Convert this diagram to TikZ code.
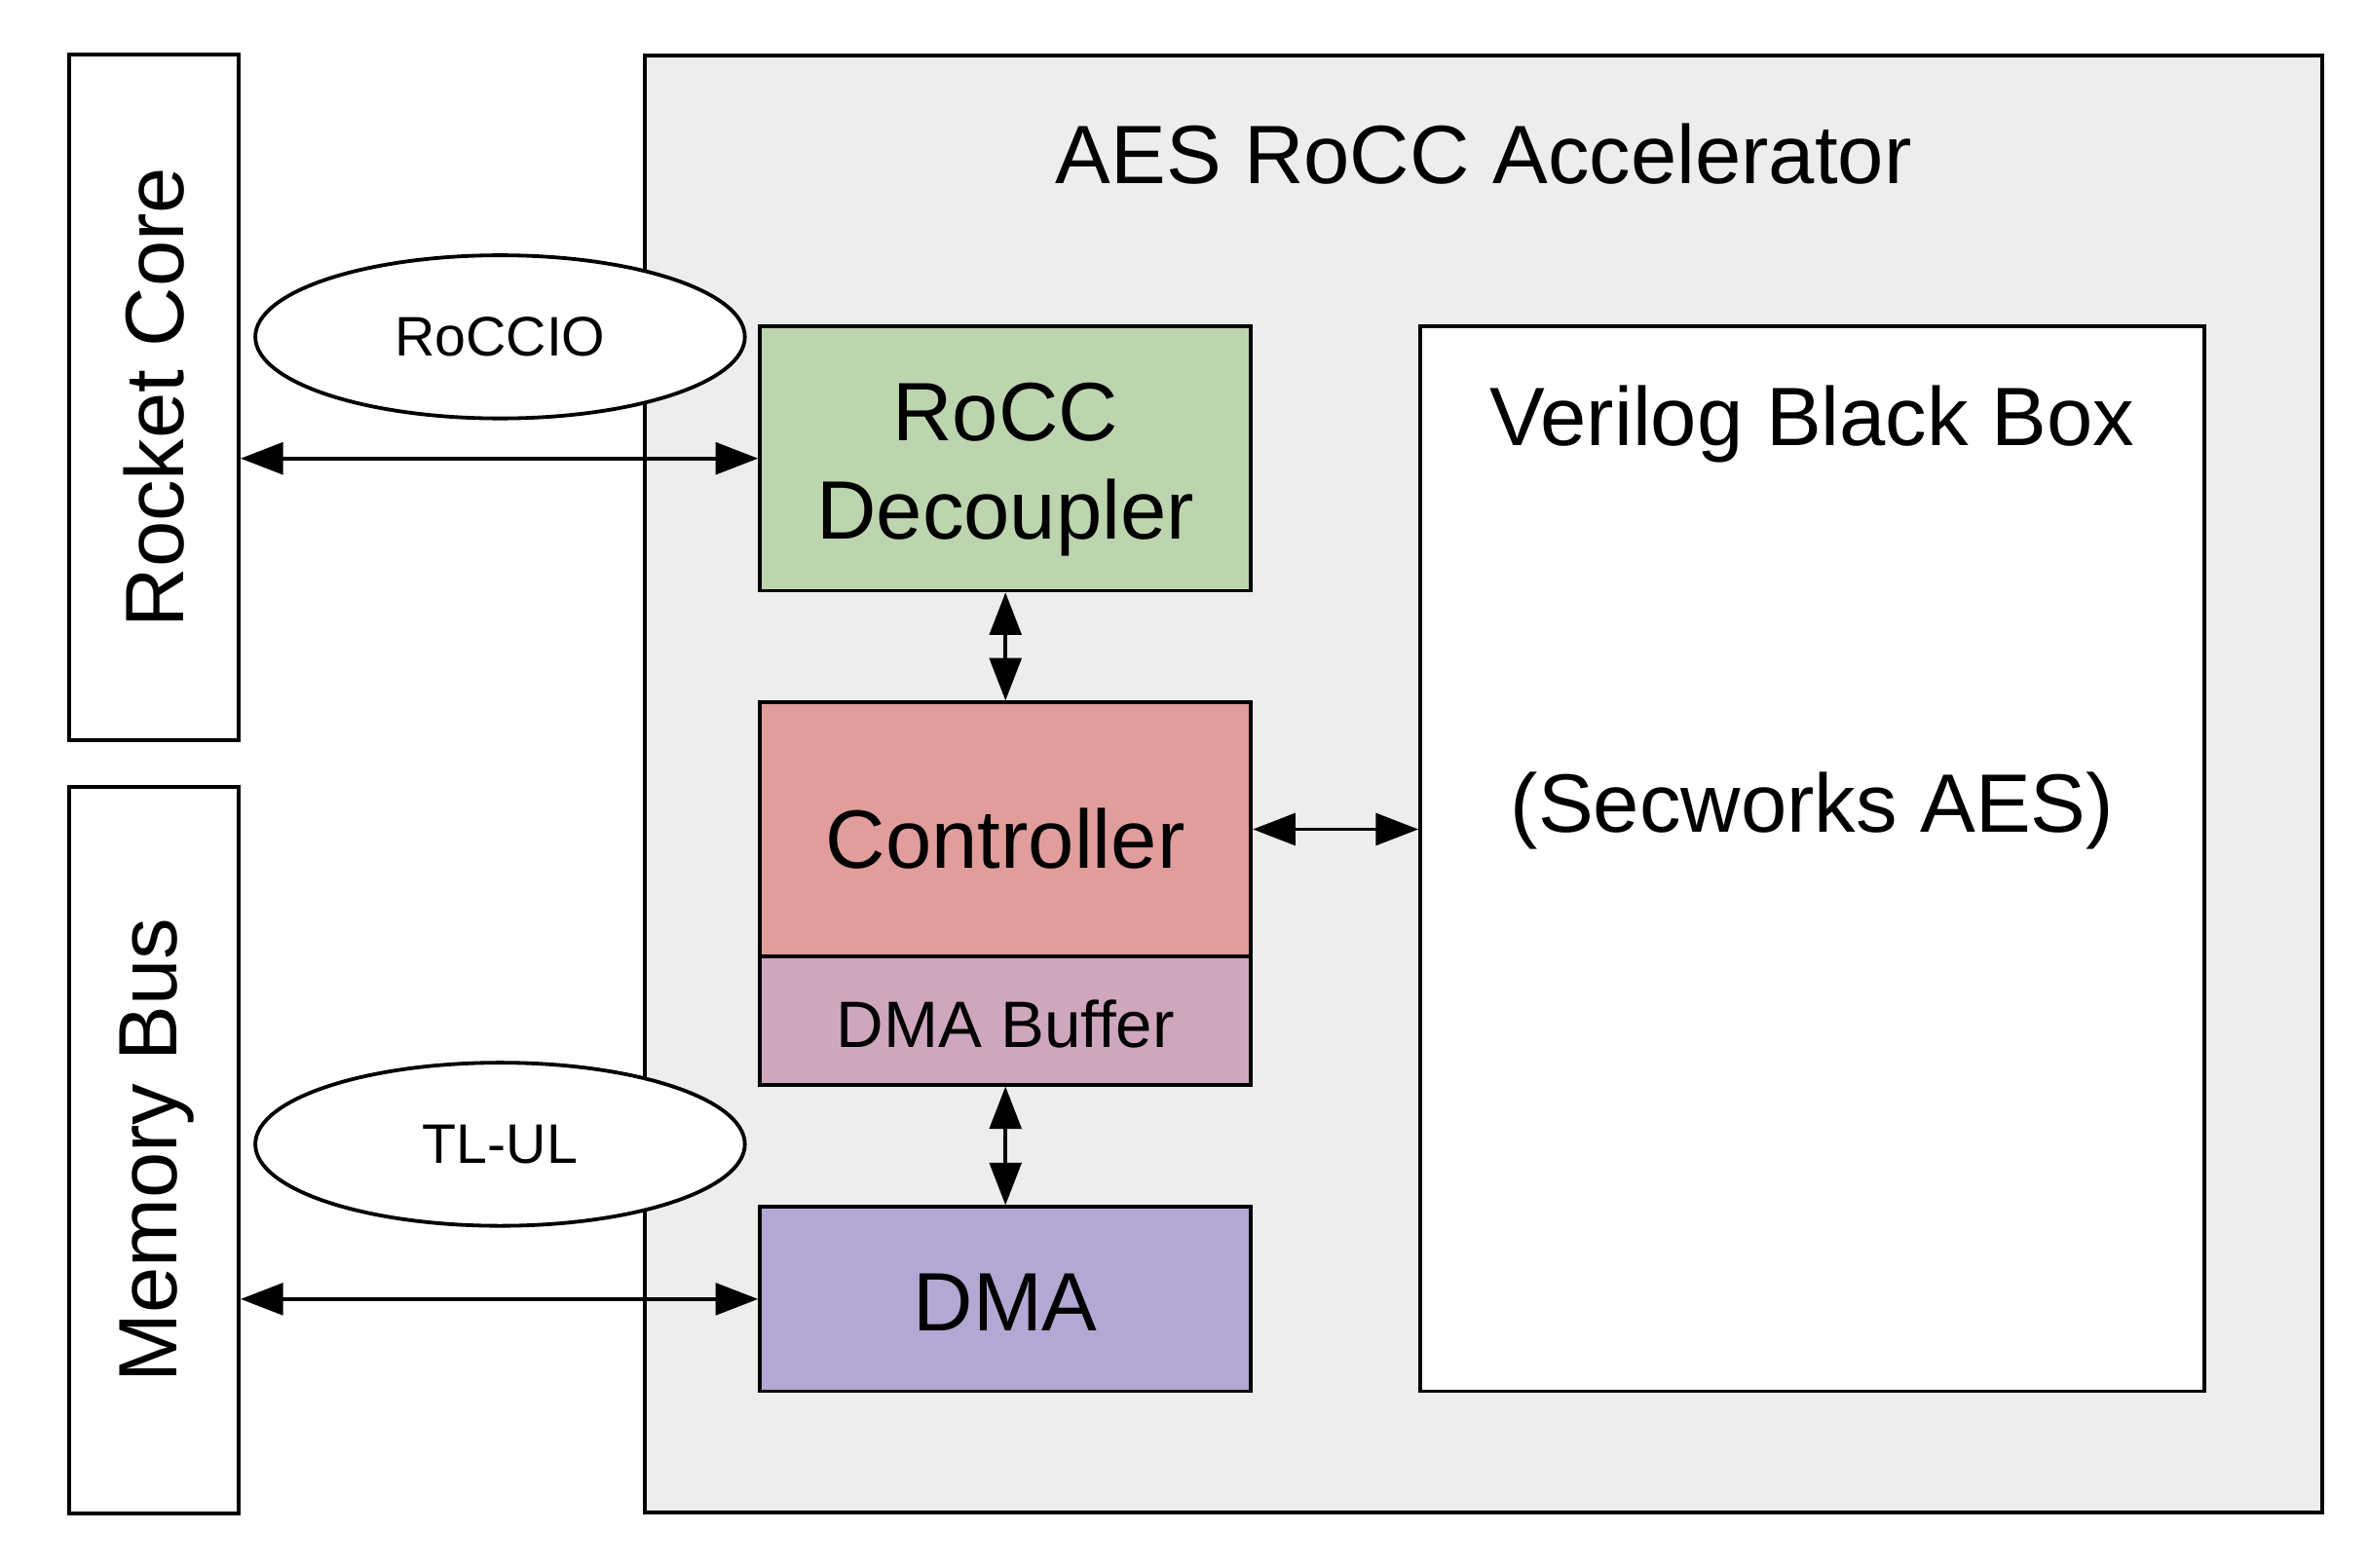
\documentclass[tikz,border=0pt]{standalone}
\usepackage{fontspec}
\setmainfont{Liberation Sans}
\usetikzlibrary{arrows.meta,shapes.geometric}
\definecolor{accelgray}{HTML}{EDEDED}
\definecolor{decogreen}{HTML}{BCD5AE}
\definecolor{ctrlred}{HTML}{E09D9B}
\definecolor{bufpink}{HTML}{CFA7BD}
\definecolor{dmapurple}{HTML}{B3A8D3}
\newcommand{\lblbig}{\fontsize{31.2}{37}\selectfont}
\newcommand{\lblmid}{\fontsize{24.7}{29}\selectfont}
\newcommand{\lblsmall}{\fontsize{21}{25}\selectfont}
\tikzset{
  blockbox/.style={draw, line width=1.4pt, inner sep=0pt, align=center},
  busoval/.style={draw, ellipse, fill=white, line width=1.4pt, inner sep=0pt,
    minimum width=64.8mm, minimum height=21.6mm, font=\lblsmall},
  link/.style={line width=1.3pt, {Triangle[length=16pt,width=12pt]}-{Triangle[length=16pt,width=12pt]}}
}
\begin{document}
\begin{tikzpicture}[x=0.2mm, y=-0.2mm]
\useasboundingbox (0,0) rectangle (1568,1038);
% outside blocks
\node[blockbox, minimum width=22.4mm, minimum height=90.8mm] (rocket) at (102,263) {};
\node[rotate=90, font=\lblbig] (rockettxt) at (102,263) {Rocket Core};
\node[blockbox, minimum width=22.4mm, minimum height=96.2mm] (membus) at (102,761.5) {};
\node[rotate=90, font=\lblbig] (membustxt) at (104,761.5) {Memory Bus};

% accelerator
\node[blockbox, fill=accelgray, minimum width=222mm, minimum height=192.8mm] (accel) at (982,519) {};
\node[font=\lblbig] (acceltxt) at (982,102) {AES RoCC Accelerator};

\node[blockbox, fill=decogreen, minimum width=65mm, minimum height=35mm] (deco) at (665.5,303.5) {};
\node[font=\lblbig, align=center] (decotxt) at (665.5,311) {RoCC\\Decoupler};
\node[blockbox, fill=ctrlred, minimum width=65mm, minimum height=33.6mm] (ctrl) at (665.5,549) {};
\node[font=\lblbig] (ctrltxt) at (665.5,555) {Controller};
\node[blockbox, fill=bufpink, minimum width=65mm, minimum height=17mm] (buf) at (665.5,675.5) {};
\node[font=\lblmid] (buftxt) at (665.5,678) {DMA Buffer};
\node[blockbox, fill=dmapurple, minimum width=65mm, minimum height=24.4mm] (dma) at (665.5,860) {};
\node[font=\lblbig] (dmatxt) at (665.5,862) {DMA};

\node[blockbox, fill=white, minimum width=103.8mm, minimum height=141mm] (vbb) at (1199.5,568.5) {};
\node[font=\lblbig] (vbbtxt) at (1199.5,281) {Verilog Black Box};
\node[font=\lblbig] (aestxt) at (1199.5,537) {(Secworks AES)};

% interfaces
\node[busoval] (roccio) at (331,223) {RoCCIO};
\node[busoval] (tlul) at (331,757.5) {TL-UL};

\draw[link] (rocket.east |- deco.west) -- (deco.west);
\draw[link] (membus.east |- dma.west) -- (dma.west);
\draw[link] (deco.south) -- (ctrl.north);
\draw[link] (buf.south) -- (dma.north);
\draw[link] (ctrl.east) -- (ctrl.east -| vbb.west);
\end{tikzpicture}
\end{document}
